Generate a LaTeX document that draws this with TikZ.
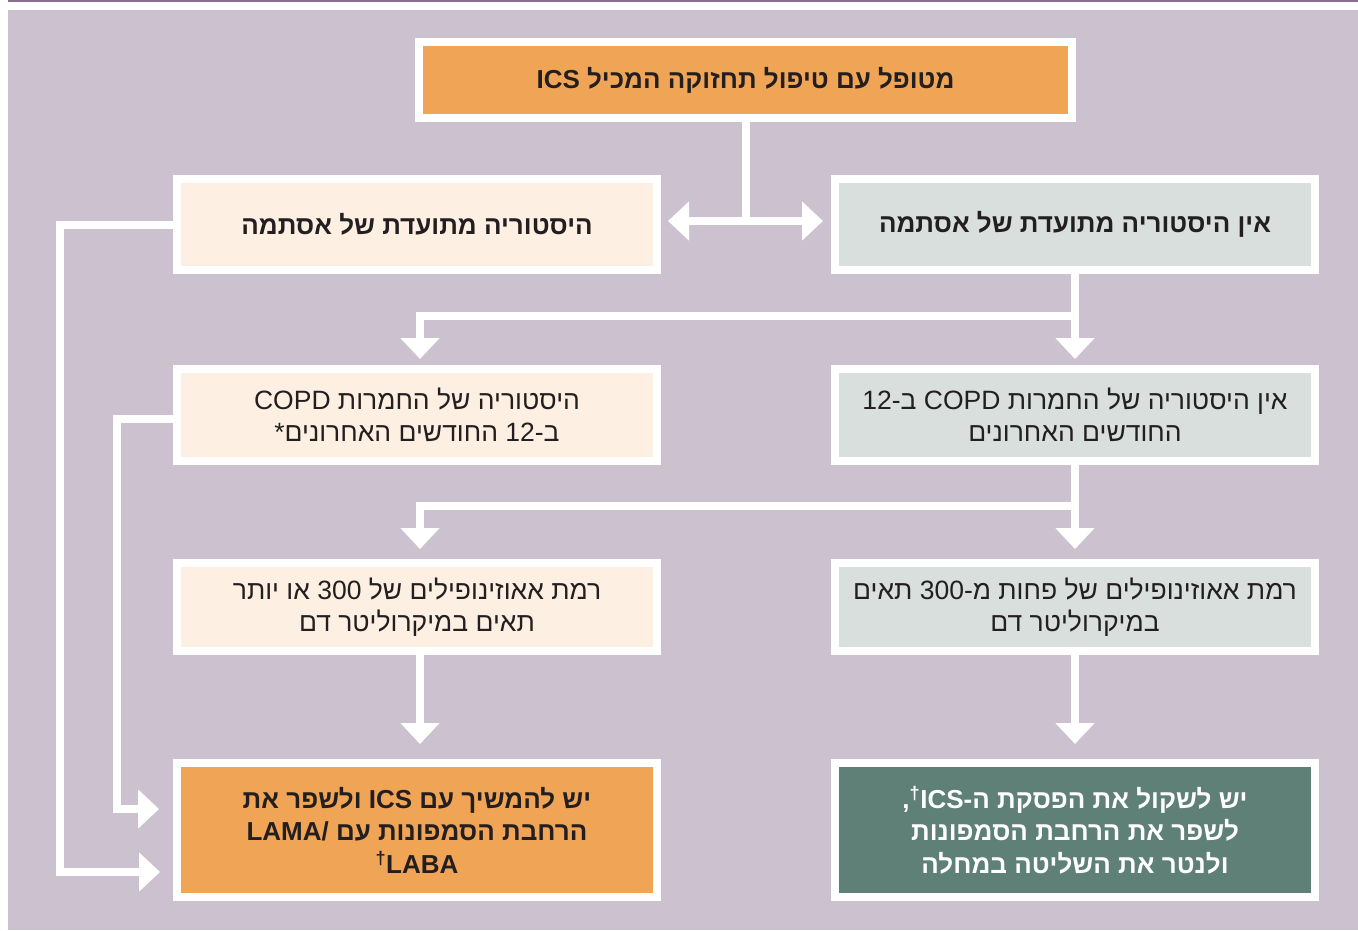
\documentclass[tikz,border=0pt]{standalone}
\usepackage{fontspec}
\setmainfont{Liberation Sans}[Script=Hebrew]
\TeXXeTstate=1
\usetikzlibrary{arrows.meta}
\definecolor{bgm}{HTML}{CCC1CE}
\definecolor{topln}{HTML}{8A6E8E}
\definecolor{orng}{HTML}{F0A556}
\definecolor{crm}{HTML}{FDF0E3}
\definecolor{gry}{HTML}{D9DFDD}
\definecolor{dgrn}{HTML}{5E8077}
\definecolor{txt}{HTML}{231F20}
\newcommand{\rl}[1]{\beginR #1\endR}
\tikzset{
  box/.style={draw=white, line width=8pt, minimum width=480pt, align=center,
    text=txt, font=\fontsize{26.5}{32.5}\selectfont, inner sep=0pt},
  boldbox/.style={box, font=\bfseries\fontsize{26}{32.5}\selectfont},
  conn/.style={draw=white, line width=8pt, line join=miter},
  arr/.style={conn, -{Triangle[width=38pt,length=21pt]}},
  dblarr/.style={conn, {Triangle[width=38pt,length=21pt]}-{Triangle[width=38pt,length=21pt]}}
}
\begin{document}
\begin{tikzpicture}[x=1pt,y=-1pt]
\useasboundingbox (0,0) rectangle (1358,930);
\fill[white] (0,0) rectangle (1358,930);
\fill[bgm] (8,10) rectangle (1358,930);
\draw[topln, line width=1.5pt] (8,0.75) -- (1358,0.75);

% nodes
\node[boldbox, fill=orng, minimum width=653pt, minimum height=76pt] (top) at (745.5,80)
  {\rl{מטופל עם טיפול תחזוקה המכיל ICS}};
\node[boldbox, fill=crm, minimum height=91pt] (hl) at (417,224.5)
  {\rl{היסטוריה מתועדת של אסתמה}};
\node[boldbox, fill=gry, minimum height=91pt] (hr) at (1075,224.5)
  {\rl{אין היסטוריה מתועדת של אסתמה}};
\node[box, fill=crm, minimum height=92pt] (cl) at (417,415)
  {\rl{היסטוריה של החמרות COPD}\\\rl{ב-12 החודשים האחרונים*}};
\node[box, fill=gry, minimum height=92pt] (cr) at (1075,415)
  {\rl{אין היסטוריה של החמרות COPD ב-12}\\\rl{החודשים האחרונים}};
\node[box, fill=crm, minimum height=88pt] (dl) at (417,607)
  {\rl{רמת אאוזינופילים של 300 או יותר}\\\rl{תאים במיקרוליטר דם}};
\node[box, fill=gry, minimum height=88pt] (dr) at (1075,607)
  {\rl{רמת אאוזינופילים של פחות מ-300 תאים}\\\rl{במיקרוליטר דם}};
\node[boldbox, fill=orng, minimum height=134pt] (el) at (417,830)
  {\rl{יש להמשיך עם ICS ולשפר את}\\\rl{הרחבת הסמפונות עם \beginL LAMA/\endL{}}\\\rl{LABA\textsuperscript{†}}};
\node[boldbox, fill=dgrn, text=white, minimum height=134pt] (er) at (1075,830)
  {\rl{יש לשקול את הפסקת ה-ICS\textsuperscript{†},}\\\rl{לשפר את הרחבת הסמפונות}\\\rl{ולנטר את השליטה במחלה}};

% connectors
\draw[conn] (top.south) -- ([yshift=3.5pt]top.south |- hl.east);
\draw[dblarr, shorten <=7pt, shorten >=8pt] ([yshift=3.5pt]hl.east) -- ([yshift=3.5pt]hr.west);

\draw[arr, shorten >=6pt] (hr.south) -- ([yshift=-42pt]hr.south) -| ([xshift=3pt]cl.north);
\draw[arr, shorten >=6pt] (hr.south) -- (cr.north);

\draw[arr, shorten >=10pt] (cr.south) -- ([yshift=-41pt]cr.south) -| ([xshift=3pt]dl.north);
\draw[arr, shorten >=10pt] (cr.south) -- (dr.north);

\draw[arr, shorten >=15pt] ([xshift=3pt]dl.south) -- ([xshift=3pt]el.north);
\draw[arr, shorten >=15pt] (dr.south) -- (er.north);

\draw[arr, shorten >=13pt] (hl.west) -- ++(-113,0) |- ([yshift=-42pt]el.west);
\draw[arr, shorten >=14pt] ([yshift=-4pt]cl.west) -- ++(-56,0) |- ([yshift=21pt]el.west);
\end{tikzpicture}
\end{document}
